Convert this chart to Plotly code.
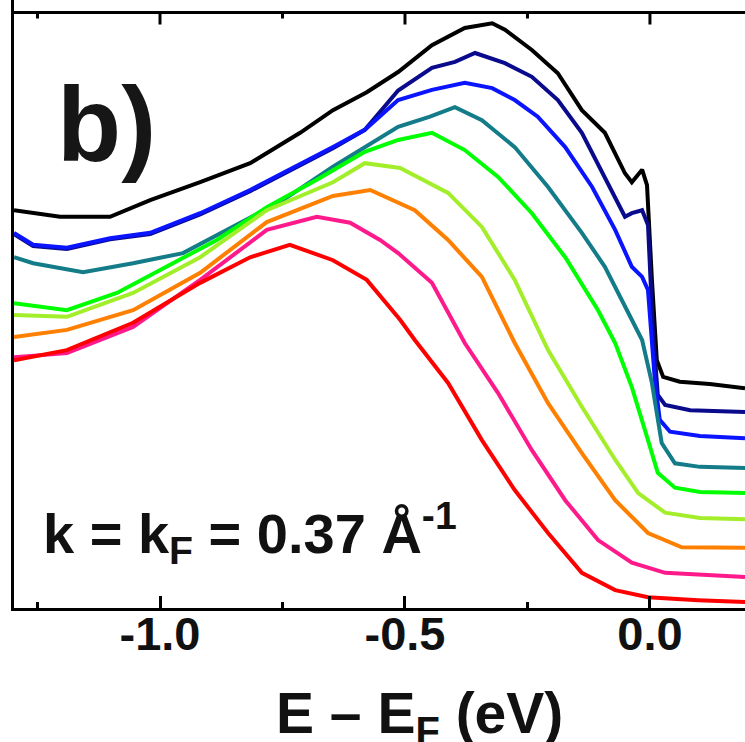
import plotly.graph_objects as go

# Energy (eV) and intensity (arb. units), one pair per EDC
black_E = [-1.298, -1.204, -1.102, -1.020, -0.918, -0.816, -0.714, -0.647, -0.578, -0.514, -0.445, -0.378, -0.322, -0.296, -0.241, -0.188, -0.139, -0.092, -0.051, -0.037, -0.016, -0.006, 0.004, 0.014, 0.027, 0.061, 0.122, 0.194]
black_I = [66.8, 65.7, 65.7, 68.5, 71.5, 74.7, 79.8, 83.6, 86.6, 90.0, 94.5, 97.4, 98.2, 97.1, 93.7, 89.8, 83.6, 79.8, 73.0, 71.5, 73.6, 71.0, 55.1, 41.6, 38.8, 38.0, 37.6, 36.9]

navy_E = [-1.298, -1.259, -1.190, -1.102, -1.020, -0.918, -0.816, -0.735, -0.647, -0.582, -0.514, -0.445, -0.398, -0.357, -0.296, -0.241, -0.188, -0.139, -0.092, -0.051, -0.037, -0.016, -0.004, 0.006, 0.016, 0.031, 0.082, 0.194]
navy_I = [62.8, 60.8, 60.3, 61.9, 62.8, 66.1, 70.0, 73.4, 77.2, 80.3, 86.9, 90.7, 91.7, 93.2, 91.5, 89.2, 85.3, 79.8, 72.4, 65.7, 66.3, 66.8, 64.3, 46.7, 35.8, 34.1, 33.2, 32.9]

blue_E = [-1.298, -1.259, -1.190, -1.102, -1.020, -0.918, -0.816, -0.735, -0.647, -0.582, -0.514, -0.445, -0.378, -0.322, -0.276, -0.229, -0.173, -0.118, -0.071, -0.037, -0.016, -0.004, 0.010, 0.020, 0.041, 0.102, 0.194]
blue_I = [63.0, 61.0, 60.5, 62.1, 63.0, 66.3, 70.2, 73.6, 77.4, 80.3, 85.3, 87.0, 88.2, 87.3, 85.3, 82.5, 77.4, 70.7, 63.5, 57.3, 55.6, 53.4, 38.3, 31.6, 29.6, 28.9, 28.5]

teal_E = [-1.298, -1.259, -1.157, -1.055, -0.953, -0.851, -0.749, -0.647, -0.582, -0.514, -0.449, -0.398, -0.343, -0.276, -0.208, -0.139, -0.092, -0.051, -0.016, 0.004, 0.024, 0.051, 0.102, 0.194]
teal_I = [58.9, 57.9, 56.4, 57.9, 59.6, 64.0, 68.5, 74.1, 77.4, 80.8, 82.5, 84.1, 81.9, 77.4, 70.7, 63.0, 57.3, 50.5, 45.0, 37.8, 27.7, 24.3, 23.7, 23.5]

green_E = [-1.298, -1.190, -1.088, -0.986, -0.884, -0.782, -0.680, -0.582, -0.514, -0.445, -0.378, -0.310, -0.241, -0.173, -0.106, -0.071, -0.037, -0.004, 0.016, 0.051, 0.102, 0.194]
green_I = [51.2, 50.0, 52.9, 57.3, 61.8, 67.3, 71.9, 76.6, 78.6, 79.8, 76.9, 72.4, 66.3, 58.9, 50.0, 44.5, 37.1, 28.2, 22.7, 20.2, 19.5, 19.3]

lime_E = [-1.298, -1.190, -1.055, -0.918, -0.782, -0.647, -0.582, -0.510, -0.412, -0.343, -0.276, -0.208, -0.139, -0.071, -0.024, 0.031, 0.102, 0.194]
lime_I = [49.2, 48.9, 52.9, 58.9, 66.8, 71.5, 74.7, 73.9, 69.7, 64.0, 55.1, 43.3, 33.8, 24.9, 19.3, 16.0, 15.1, 14.9]

orange_E = [-1.298, -1.190, -1.055, -0.918, -0.782, -0.647, -0.571, -0.480, -0.412, -0.343, -0.276, -0.208, -0.139, -0.071, -0.004, 0.065, 0.194]
orange_I = [45.5, 46.7, 50.0, 56.3, 64.8, 69.2, 70.2, 66.8, 61.8, 55.6, 44.5, 34.4, 26.0, 18.1, 12.6, 10.2, 10.1]

pink_E = [-1.298, -1.190, -1.055, -0.918, -0.782, -0.680, -0.612, -0.551, -0.514, -0.445, -0.378, -0.310, -0.241, -0.173, -0.106, -0.037, 0.031, 0.194]
pink_I = [42.1, 42.8, 47.2, 55.1, 63.5, 65.7, 64.7, 61.8, 59.6, 54.6, 44.5, 36.1, 26.5, 18.1, 11.4, 7.6, 5.9, 5.2]

red_E = [-1.298, -1.190, -1.055, -0.918, -0.816, -0.735, -0.647, -0.578, -0.510, -0.480, -0.412, -0.343, -0.276, -0.208, -0.139, -0.071, -0.004, 0.098, 0.194]
red_I = [41.6, 43.3, 47.9, 54.6, 58.9, 61.0, 58.4, 55.1, 48.4, 45.0, 37.8, 28.2, 19.8, 12.6, 5.9, 3.0, 1.8, 1.3, 1.0]

series = [
    (black_E, black_I, "#000000"),
    (navy_E, navy_I, "#0a0a8c"),
    (blue_E, blue_I, "#0a14ff"),
    (teal_E, teal_I, "#137c88"),
    (green_E, green_I, "#00ff00"),
    (lime_E, lime_I, "#a3ee2a"),
    (orange_E, orange_I, "#ff8000"),
    (pink_E, pink_I, "#ff1a8c"),
    (red_E, red_I, "#ff0000"),
]

x_range = [-1.298, 0.194]
frame_top = 100.0          # intensity level of the top frame of the panel
y_range = [0, 102.1]
x_ticks = [-1.0, -0.5, 0.0]
x_tick_text = ["-1.0", "-0.5", "0.0"]
x_minor = [-1.25, -0.75, -0.25]

FONT = "Liberation Sans, Arial, sans-serif"
W, H = 745, 742
M_L, M_R, M_T, M_B = 14, 0, 0, 134
FRAME_W = 3
MAJOR_LEN, MINOR_LEN = 12, 6

fig = go.Figure()
for E, I, c in series:
    fig.add_trace(go.Scatter(x=E, y=I, mode="lines",
                             line=dict(color=c, width=4), showlegend=False,
                             hoverinfo="skip"))

# top frame line and its inward ticks, placed through the axis scale
px_per_unit = (H - M_T - M_B) / (y_range[1] - y_range[0])
y_major = frame_top - MAJOR_LEN / px_per_unit
y_minor = frame_top - MINOR_LEN / px_per_unit

fig.add_trace(go.Scatter(x=list(x_range), y=[frame_top, frame_top], mode="lines",
                         line=dict(color="black", width=FRAME_W), showlegend=False,
                         hoverinfo="skip"))
for t in x_ticks:
    fig.add_trace(go.Scatter(x=[t, t], y=[frame_top, y_major], mode="lines",
                             line=dict(color="black", width=FRAME_W), showlegend=False,
                             hoverinfo="skip"))
for t in x_minor:
    fig.add_trace(go.Scatter(x=[t, t], y=[frame_top, y_minor], mode="lines",
                             line=dict(color="black", width=FRAME_W), showlegend=False,
                             hoverinfo="skip"))

shapes = [dict(type="line", xref="x", yref="y", x0=x_range[0], x1=x_range[1],
               y0=frame_top, y1=frame_top, line=dict(color="black", width=FRAME_W), layer="above")]

fig.update_layout(
    template="none",
    width=W, height=H,
    margin=dict(l=M_L, r=M_R, t=M_T, b=M_B, pad=0, autoexpand=False),
    paper_bgcolor="white", plot_bgcolor="white",
    font=dict(family=FONT, color="#111111"),
    showlegend=False,
    shapes=shapes,
    xaxis=dict(
        range=x_range, showgrid=False, zeroline=False, automargin=False,
        showline=True, linewidth=FRAME_W, linecolor="black", mirror=False,
        ticks="inside", ticklen=MAJOR_LEN, tickwidth=3, tickcolor="black",
        tickvals=x_ticks, ticktext=x_tick_text,
        tickfont=dict(size=47, family=FONT, weight="bold", color="#111111"),
        ticklabelstandoff=-17,
        minor=dict(tickvals=x_minor, ticks="inside", ticklen=MINOR_LEN, tickwidth=3, tickcolor="black"),
    ),
    yaxis=dict(
        range=y_range, showgrid=False, zeroline=False, automargin=False,
        showline=True, linewidth=FRAME_W, linecolor="black", mirror=False,
        ticks="", showticklabels=False,
    ),
)

plot_h = H - M_T - M_B
fig.add_annotation(text="b)", xref="paper", yref="paper", x=0.056, y=(plot_h - 125) / plot_h,
                   xanchor="left", yanchor="middle", showarrow=False,
                   font=dict(size=105, family=FONT, weight="bold", color="#161616"))
fig.add_annotation(text="k = k<sub>F</sub> = 0.37 Å<sup>-1</sup>", xref="paper", yref="paper",
                   x=0.037, y=(plot_h - 533.4) / plot_h, xanchor="left", yanchor="middle", showarrow=False,
                   font=dict(size=56, family=FONT, weight="bold", color="#111111"))
fig.add_annotation(text="E – E<sub>F</sub> (eV)", xref="paper", yref="paper",
                   x=(419 - M_L) / (W - M_L), y=(plot_h - 717.3) / plot_h,
                   xanchor="center", yanchor="middle", showarrow=False,
                   font=dict(size=57, family=FONT, weight="bold", color="#111111"))

fig.write_html("out.html", config={"displayModeBar": False},
               post_script="document.body.style.margin='0px';")
